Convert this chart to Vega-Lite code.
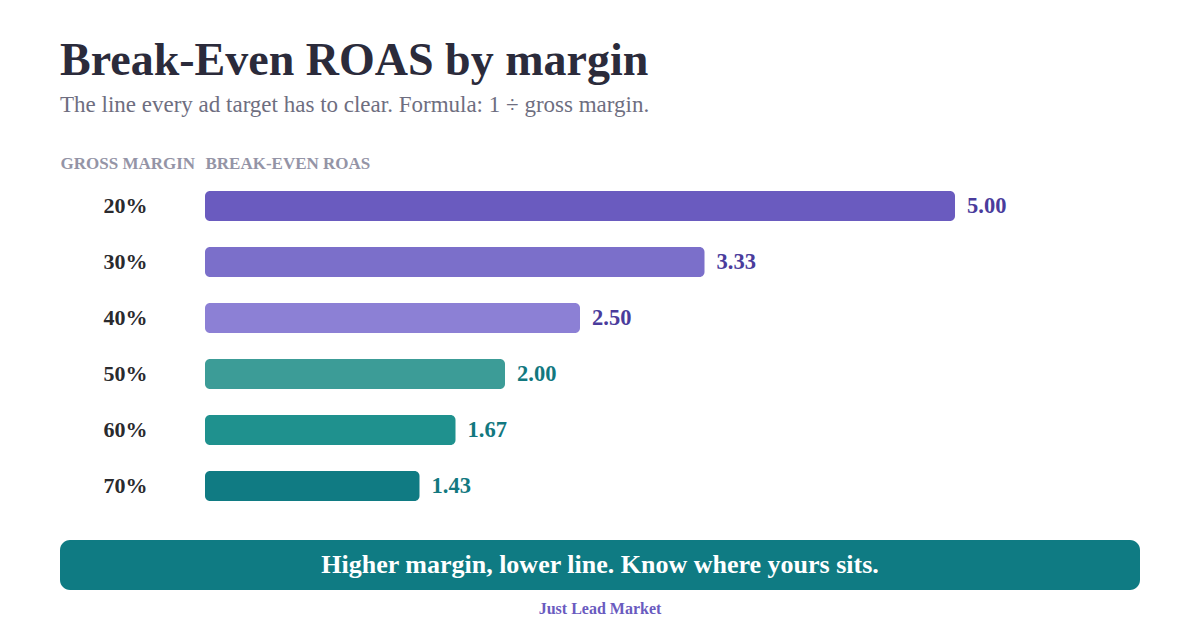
{
  "$schema": "https://vega.github.io/schema/vega-lite/v6.json",
  "background": "white",
  "autosize": {"type": "pad"},
  "padding": {"left": 60, "top": 38, "right": 60, "bottom": 10},
  "title": {
    "text": "Break-Even ROAS by margin",
    "subtitle": "The line every ad target has to clear. Formula: 1 ÷ gross margin.",
    "anchor": "start",
    "font": "Liberation Serif",
    "fontSize": 46,
    "fontWeight": "bold",
    "color": "#2b2b3b",
    "subtitleFont": "Liberation Serif",
    "subtitleFontSize": 23,
    "subtitleColor": "#6e6e80",
    "subtitlePadding": 9,
    "offset": 36
  },
  "bounds": "flush",
  "spacing": 26,
  "vconcat": [
    {
      "width": 1080,
      "height": 336,
      "data": {
        "values": [
          {"margin": "20%", "roas": 5.0},
          {"margin": "30%", "roas": 3.33},
          {"margin": "40%", "roas": 2.5},
          {"margin": "50%", "roas": 2.0},
          {"margin": "60%", "roas": 1.67},
          {"margin": "70%", "roas": 1.43}
        ]
      },
      "encoding": {
        "y": {
          "field": "margin",
          "type": "ordinal",
          "sort": null,
          "scale": {"paddingInner": 0.46, "paddingOuter": 0.23},
          "axis": {
            "orient": "left",
            "offset": -145,
            "domain": false,
            "ticks": false,
            "grid": false,
            "labelAlign": "center",
            "labelBaseline": "middle",
            "labelPadding": 80,
            "labelFont": "Liberation Serif",
            "labelFontSize": 22,
            "labelFontWeight": "bold",
            "labelColor": "#2a2a2e",
            "title": "GROSS MARGIN",
            "titleAngle": 0,
            "titleAlign": "left",
            "titleBaseline": "alphabetic",
            "titleX": -145,
            "titleY": -10,
            "titleFont": "Liberation Serif",
            "titleFontSize": 17,
            "titleFontWeight": "bold",
            "titleColor": "#9494a6"
          }
        },
        "x": {
          "field": "roas",
          "type": "quantitative",
          "scale": {"domain": [-0.9667, 6.2333], "nice": false, "zero": false},
          "axis": {
            "orient": "top",
            "labels": false,
            "ticks": false,
            "domain": false,
            "grid": false,
            "title": "BREAK-EVEN ROAS",
            "titleAnchor": "start",
            "titleAlign": "left",
            "titleBaseline": "alphabetic",
            "titleX": 145,
            "titleY": -10,
            "titleFont": "Liberation Serif",
            "titleFontSize": 17,
            "titleFontWeight": "bold",
            "titleColor": "#9494a6"
          }
        }
      },
      "layer": [
        {
          "mark": {"type": "bar", "cornerRadius": 5},
          "encoding": {
            "x2": {"datum": 0},
            "color": {
              "field": "margin",
              "type": "ordinal",
              "sort": null,
              "legend": null,
              "scale": {"range": ["#6a5bbf", "#7b6fca", "#8c80d5", "#3c9c97", "#1f918e", "#107b83"]}
            }
          }
        },
        {
          "mark": {
            "type": "text",
            "align": "left",
            "baseline": "middle",
            "dx": 12,
            "font": "Liberation Serif",
            "fontSize": 22.5,
            "fontWeight": "bold"
          },
          "encoding": {
            "text": {"field": "roas", "type": "quantitative", "format": ".2f"},
            "color": {
              "field": "margin",
              "type": "ordinal",
              "sort": null,
              "legend": null,
              "scale": {"range": ["#4a3c9c", "#4a3c9c", "#4a3c9c", "#12787f", "#12787f", "#12787f"]}
            }
          }
        }
      ],
      "resolve": {"scale": {"color": "independent"}}
    },
    {
      "width": 1080,
      "height": 50,
      "view": {"fill": "#0f7b83", "cornerRadius": 10, "stroke": null},
      "data": {"values": [{"note": "Higher margin, lower line. Know where yours sits."}]},
      "mark": {
        "type": "text",
        "align": "center",
        "baseline": "middle",
        "font": "Liberation Serif",
        "fontSize": 26,
        "fontWeight": "bold",
        "color": "#ffffff"
      },
      "encoding": {"text": {"field": "note", "type": "nominal"}},
      "title": {
        "text": "Just Lead Market",
        "orient": "bottom",
        "anchor": "middle",
        "font": "Liberation Serif",
        "fontSize": 16,
        "fontWeight": "bold",
        "color": "#6a5bbf",
        "offset": 11
      }
    }
  ],
  "config": {"view": {"stroke": null}}
}
